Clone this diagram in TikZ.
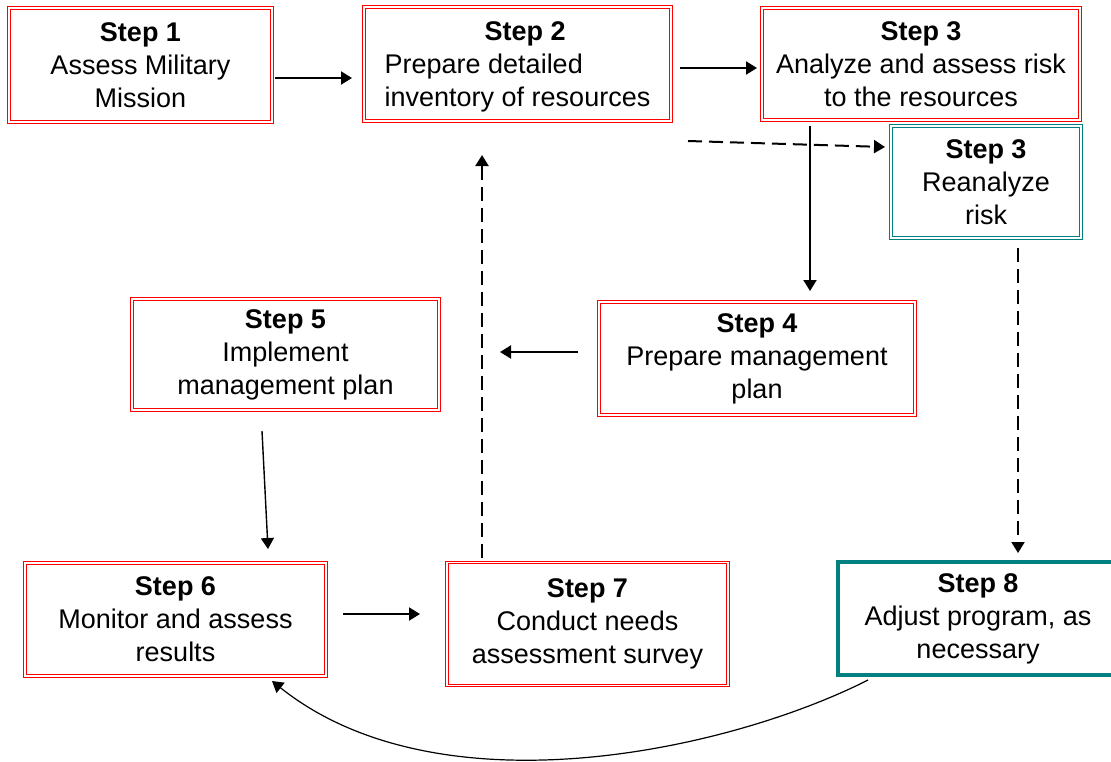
\documentclass[tikz,border=0pt]{standalone}
\usepackage{fontspec}
\setmainfont{Liberation Sans}
\usetikzlibrary{positioning}
\usetikzlibrary{calc}
\usetikzlibrary{arrows.meta}

\definecolor{stepred}{RGB}{255,0,0}
\definecolor{stepteal}{RGB}{0,128,128}

\tikzset{
  stepbox/.style={draw=stepred, line width=0.6pt, double=white, double distance=0.7pt,
    align=center, outer sep=0pt, inner sep=2pt,
    font=\fontsize{13.5}{16.5}\selectfont},
  redobox/.style={stepbox, draw=stepteal, line width=0.5pt, double distance=0.8pt},
  adjustbox/.style={stepbox, draw=stepteal, line width=2.25pt, double=none},
  arr/.style={-{Triangle[length=5.5pt,width=6.5pt]}, line width=1pt},
  dasharr/.style={arr, dash pattern=on 7pt off 3.5pt}
}

\begin{document}
\begin{tikzpicture}[x=0.5pt, y=-0.5pt]
\useasboundingbox (0,0) rectangle (1111,761);

\node (S1) [stepbox, minimum width=131.5pt, minimum height=57pt] at (140.5,65)
  {\textbf{Step 1}\\Assess Military\\Mission};

\node (S2) [stepbox, align=left, minimum width=153.5pt, minimum height=57pt] at (517.5,64)
  {\hspace*{50pt}\textbf{Step 2}\\Prepare detailed\\\smash{inventory of resources}};

\node (S3) [stepbox, minimum width=159pt, minimum height=56pt] at (921,64)
  {\textbf{Step 3}\\Analyze and assess risk\\to the resources};

\node (R3) [redobox, minimum width=95pt, minimum height=56pt] at (986,182)
  {\textbf{Step 3}\\Reanalyze\\risk};

\node (S4) [stepbox, minimum width=158pt, minimum height=56.5pt] at (757,358.5)
  {\textbf{Step 4}\\Prepare management\\plan};

\node (S5) [stepbox, minimum width=153.5pt, minimum height=55.5pt] at (285.5,354.5)
  {\textbf{Step 5}\\Implement\\management plan};

\node (S6) [stepbox, minimum width=150.5pt, minimum height=56.5pt] at (175.5,619.5)
  {\textbf{Step 6}\\Monitor and assess\\results};

\node (S7) [stepbox, minimum width=140.5pt, minimum height=61.5pt] at (587.5,624)
  {\textbf{Step 7}\\Conduct needs\\assessment survey};

\node (S8) [adjustbox, minimum width=140pt, minimum height=56.5pt] at (978,618.5)
  {\textbf{Step 8}\\Adjust program, as\\necessary};

%
\draw [arr] ($(S1.east)+(3,13)$) -- ($(S2.west)+(-12,14)$);
\draw [arr] ($(S2.east)+(9,4)$) -- ($(S3.west)+(-5,4)$);
\draw [dasharr] ($(S2.south east)+(17,20)$) -- ($(R3.west)+(-6,-35)$);
\draw [arr] ($(S3.south)+(-111,6)$) -- ($(S4.north)+(53,-11)$);
\draw [arr] ($(S4.west)+(-21,-6.5)$) -- ($(S5.east)+(61,-2.5)$);
\draw [dasharr] ($(S7.north)+(-105.5,-5)$) -- ($(S2.south)+(-35.5,34)$);
\draw [arr, line width=0.7pt] ($(S5.south)+(-23.5,21)$) -- ($(S6.north)+(92.5,-14)$);
\draw [arr] ($(S6.east)+(17,-5.5)$) -- ($(S7.west)+(-27,-10)$);
\draw [dasharr] ($(R3.south)+(32,10)$) -- ($(S8.north)+(40,-9)$);
\draw [arr, line width=0.6pt] ($(S8.south west)+(30,5)$)
  .. controls (730,750) and (440,815) .. ($(S6.south)+(96.5,5)$);
\end{tikzpicture}
\end{document}
